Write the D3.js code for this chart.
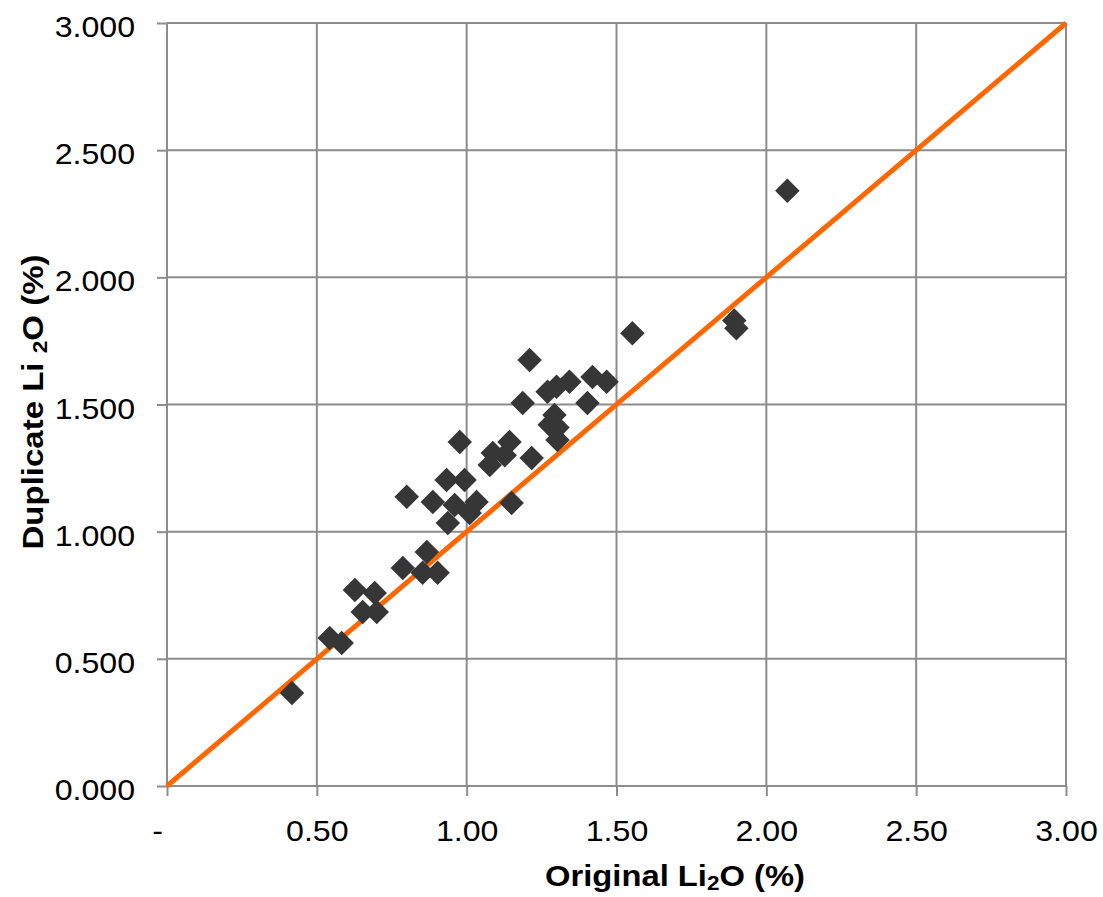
<!DOCTYPE html>
<html>
<head>
<meta charset="utf-8">
<script src="https://cdn.jsdelivr.net/npm/d3@7"></script>
<style>
  html, body { margin: 0; padding: 0; background: #fff; }
  svg { display: block; font-family: "Liberation Sans", Arial, sans-serif; }
</style>
</head>
<body>
<svg id="chart" width="1103" height="897"></svg>
<script>
// Original vs duplicate Li2O assays (%)
const originalLi2O = [
  0.417, 2.07, 1.893, 1.90, 1.553, 1.21, 1.42, 1.467, 1.343, 1.30,
  1.27, 1.187, 1.403, 1.293, 1.277, 1.303, 1.303, 0.977, 1.143, 1.087,
  1.127, 1.077, 1.217, 0.933, 0.993, 0.80, 0.887, 0.96, 1.033, 1.15,
  0.937, 1.01, 0.543, 0.583, 0.627, 0.693, 0.653, 0.70, 0.787, 0.867,
  0.853, 0.903
];
const duplicateLi2O = [
  0.366, 2.34, 1.83, 1.80, 1.78, 1.675, 1.608, 1.589, 1.589, 1.57,
  1.55, 1.506, 1.506, 1.459, 1.42, 1.41, 1.36, 1.353, 1.353, 1.309,
  1.30, 1.262, 1.29, 1.203, 1.203, 1.137, 1.117, 1.105, 1.117, 1.113,
  1.034, 1.073, 0.582, 0.562, 0.771, 0.759, 0.684, 0.684, 0.857, 0.92,
  0.838, 0.838
];
const xTicks = [0, 0.5, 1.0, 1.5, 2.0, 2.5, 3.0];
const yTicks = [0, 0.5, 1.0, 1.5, 2.0, 2.5, 3.0];
const parityLine = [[0, 0], [3, 3]];

const svg = d3.select("#chart");
const plotLeft = 167, plotRight = 1066, plotTop = 23, plotBottom = 786;

const x = d3.scaleLinear().domain([0, 3]).range([plotLeft, plotRight]);
const y = d3.scaleLinear().domain([0, 3]).range([plotBottom, plotTop]);

const gridColor = "#8c8c8c";

// gridlines
const grid = svg.append("g");
grid.selectAll("line.v").data(xTicks).join("line")
  .attr("x1", d => x(d)).attr("x2", d => x(d))
  .attr("y1", plotTop).attr("y2", plotBottom)
  .attr("stroke", gridColor).attr("stroke-width", 2);
grid.selectAll("line.h").data(yTicks).join("line")
  .attr("x1", plotLeft).attr("x2", plotRight)
  .attr("y1", d => y(d)).attr("y2", d => y(d))
  .attr("stroke", gridColor).attr("stroke-width", 2);

// axes
const xAxis = d3.axisBottom(x).tickValues(xTicks).tickSize(10).tickPadding(24)
  .tickFormat(d => d === 0 ? "-" : d3.format(".2f")(d));
const yAxis = d3.axisLeft(y).tickValues(yTicks).tickSize(10).tickPadding(22)
  .tickFormat(d3.format(".3f"));

const gx = svg.append("g").attr("transform", `translate(0,${plotBottom})`).call(xAxis);
const gy = svg.append("g").attr("transform", `translate(${plotLeft},0)`).call(yAxis);
[gx, gy].forEach(g => {
  g.select(".domain").remove();
  g.selectAll(".tick line").attr("stroke", gridColor).attr("stroke-width", 2);
  g.selectAll(".tick text").attr("fill", "#000")
    .style("font-family", "'Liberation Sans', Arial, sans-serif")
    .style("font-size", "30px")
    .each(function () {
      const w = this.getComputedTextLength();
      d3.select(this).attr("textLength", w * 1.07).attr("lengthAdjust", "spacingAndGlyphs");
    });
});
gy.selectAll(".tick text").attr("dy", "0.45em");
gx.selectAll(".tick text").filter(d => d === 0).attr("dx", -10);

// 1:1 parity line
svg.append("path")
  .datum(parityLine)
  .attr("d", d3.line().x(d => x(d[0])).y(d => y(d[1])))
  .attr("stroke", "#ff6600").attr("stroke-width", 5).attr("fill", "none");

// diamond markers
const pts = originalLi2O.map((v, i) => [v, duplicateLi2O[i]]);
const diamond = d3.symbol().type(d3.symbolSquare).size(300);
svg.append("g").selectAll("path").data(pts).join("path")
  .attr("d", diamond)
  .attr("transform", d => `translate(${x(d[0])},${y(d[1])}) rotate(45)`)
  .attr("fill", "#363636");

// axis titles
const xt = svg.append("text")
  .attr("x", 675).attr("y", 886)
  .attr("text-anchor", "middle")
  .attr("textLength", 260).attr("lengthAdjust", "spacingAndGlyphs")
  .style("font-weight", "bold").style("font-size", "29px");
xt.append("tspan").text("Original Li");
xt.append("tspan").text("2").style("font-size", "20px").attr("dy", 4);
xt.append("tspan").text("O (%)").attr("dy", -4);

const yt = svg.append("text")
  .attr("transform", "translate(43,402) rotate(-90)")
  .attr("text-anchor", "middle")
  .attr("textLength", 295).attr("lengthAdjust", "spacingAndGlyphs")
  .style("font-weight", "bold").style("font-size", "29px");
yt.append("tspan").text("Duplicate Li ");
yt.append("tspan").text("2").style("font-size", "20px").attr("dy", 4);
yt.append("tspan").text("O (%)").attr("dy", -4);
</script>
</body>
</html>
